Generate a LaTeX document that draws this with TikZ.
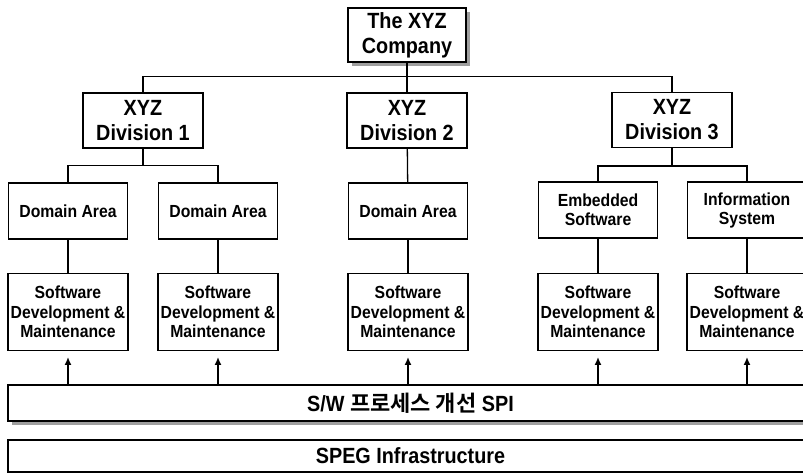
\documentclass[tikz,border=0pt]{standalone}
\usepackage{fontspec}
\setmainfont{Liberation Sans}[UprightFont=* Bold, FakeStretch=0.9]
\newfontfamily\krfont{Noto Sans CJK KR}[UprightFont=* Bold]
\usetikzlibrary{shapes,arrows,arrows.meta,positioning,shadows}

\tikzset{
  unitbox/.style={rectangle, draw, line width=1.3pt, fill=white, align=center, inner sep=0pt},
  topbox/.style={unitbox, minimum width=118pt, minimum height=54pt, font=\fontsize{22}{25}\selectfont},
  divbox/.style={unitbox, minimum width=120pt, minimum height=55pt, font=\fontsize{22}{25}\selectfont},
  areabox/.style={unitbox, minimum width=119pt, minimum height=56pt, font=\fontsize{17.5}{19}\selectfont},
  swbox/.style={unitbox, minimum width=120pt, minimum height=77pt, font=\fontsize{17.5}{19.5}\selectfont},
  barbox/.style={unitbox, minimum width=805pt, font=\fontsize{22}{24}\selectfont},
  grayshadow/.style={drop shadow={shadow xshift=4pt, shadow yshift=-4pt, fill=gray!75, opacity=1}},
  orgline/.style={line width=1.3pt},
  feedarrow/.style={line width=2pt, -{Latex[length=8pt,width=7pt]}},
}

\begin{document}
\begin{tikzpicture}[x=1pt, y=-1pt]
    \useasboundingbox (0,0) rectangle (803,473);

    % company and divisions
    \node (company) [topbox, grayshadow] at (407,35) {The XYZ\\Company};
    \node (div1) [divbox] at (143,120.5) {XYZ\\Division 1};
    \node (div2) [divbox] at (407,120.5) {XYZ\\Division 2};
    \node (div3) [divbox] at (672,120) {XYZ\\Division 3};

    % domain areas
    \node (dom1) [areabox] at (68,211) {Domain Area};
    \node (dom2) [areabox] at (218,211) {Domain Area};
    \node (dom3) [areabox] at (408,211) {Domain Area};
    \node (dom4) [areabox] at (598,210) {Embedded\\Software};
    \node (dom5) [areabox] at (747,210) {Information\\System};

    % software development and maintenance
    \node (sw1) [swbox, below=33pt of dom1] {Software\\Development \&\\Maintenance};
    \node (sw2) [swbox, below=33pt of dom2] {Software\\Development \&\\Maintenance};
    \node (sw3) [swbox, below=33pt of dom3] {Software\\Development \&\\Maintenance};
    \node (sw4) [swbox, below=34pt of dom4] {Software\\Development \&\\Maintenance};
    \node (sw5) [swbox, below=34pt of dom5] {Software\\Development \&\\Maintenance};

    % process and infrastructure bars
    \node (spi) [barbox, minimum height=36pt, grayshadow] at (410.5,403) {S/W {\krfont 프로세스 개선} SPI};
    \node (speg) [barbox, minimum height=32pt] at (410.5,456) {SPEG Infrastructure};

    % organisation lines
    \draw [orgline] (company.south) -- ++(0,14) coordinate (hub);
    \draw [orgline] (div1.north) |- (hub) -| (div3.north);
    \draw [orgline] (company.south) -- (div2.north);

    \draw [orgline] (div1.south) -- ++(0,17) coordinate (fork1);
    \draw [orgline] (dom1.north) |- (fork1) -| (dom2.north);
    \draw [orgline] (div2) -- (dom3);
    \draw [orgline] (div3.south) -- ++(0,18) coordinate (fork3);
    \draw [orgline] (dom4.north) |- (fork3) -| (dom5.north);

    \foreach \i in {1,...,5}
        \draw [orgline] (dom\i) -- (sw\i);

    % arrows from the SPI bar
    \foreach \i in {1,...,5}
        \draw [feedarrow] (spi.north -| sw\i) -- ([yshift=-6pt]sw\i.south);
\end{tikzpicture}
\end{document}
